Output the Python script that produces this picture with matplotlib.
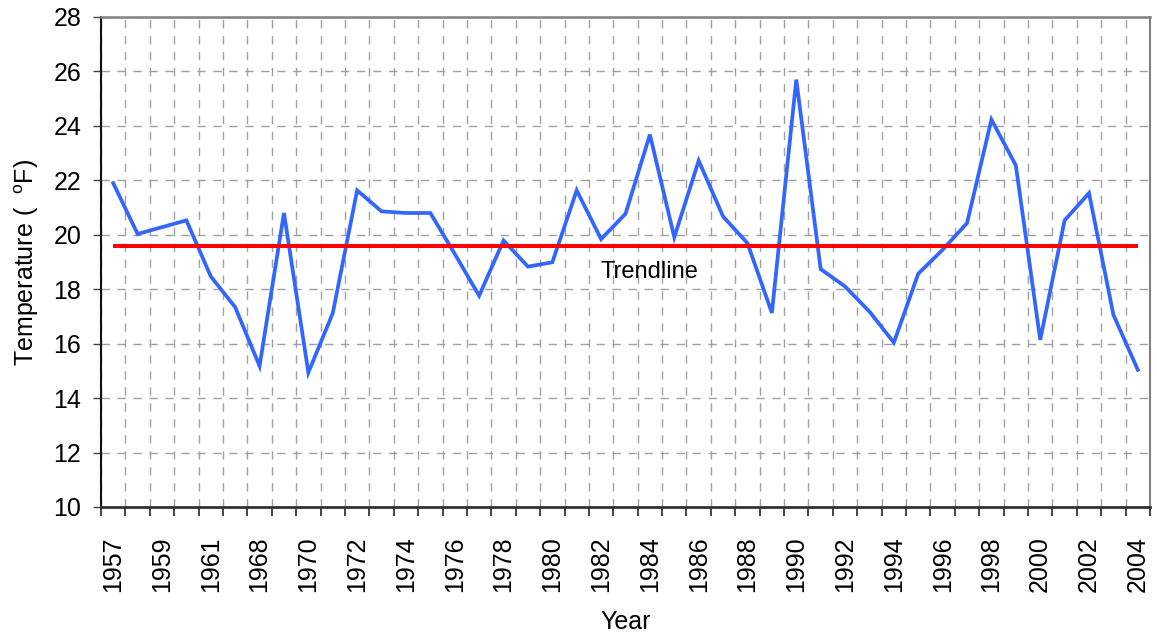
import matplotlib
matplotlib.use("Agg")
import matplotlib.pyplot as plt
import numpy as np

plt.rcParams['font.family'] = ['Liberation Sans', 'DejaVu Sans']
plt.rcParams['mathtext.fontset'] = 'custom'
plt.rcParams['mathtext.rm'] = 'Liberation Sans'

years = ['1957', '1958', '1959', '1960', '1961', '1962', '1968', '1969', '1970', '1971',
         '1972', '1973', '1974', '1975', '1976', '1977', '1978', '1979', '1980', '1981',
         '1982', '1983', '1984', '1985', '1986', '1987', '1988', '1989', '1990', '1991',
         '1992', '1993', '1994', '1995', '1996', '1997', '1998', '1999', '2000', '2001',
         '2002', '2003', '2004']
temperature = [21.90, 20.03, 20.28, 20.53, 18.47, 17.34, 15.18, 20.80, 14.94, 17.12,
               21.63, 20.86, 20.80, 20.80, 19.30, 17.76, 19.79, 18.83, 18.99, 21.63,
               19.84, 20.77, 23.68, 19.91, 22.72, 20.67, 19.69, 17.13, 25.70, 18.74,
               18.10, 17.18, 16.04, 18.57, 19.45, 20.43, 24.23, 22.55, 16.14, 20.53,
               21.53, 17.06, 15.04]
trend_value = 19.58
yticks = list(range(10, 29, 2))

W, H = 1157, 637
fig = plt.figure(figsize=(W / 100, H / 100), dpi=100)
ax = fig.add_axes([101 / W, 1 - 507 / H, (1150 - 101) / W, (507 - 17) / H])

x = np.arange(len(years))
ax.plot(x, temperature, color='#3366FF', lw=2.7, solid_joinstyle='miter', zorder=3)
ax.plot(x, [trend_value] * len(years), color='#FF0000', lw=2.9, zorder=4,
        solid_capstyle='butt')
ax.text(22, 18.65, 'Trendline', ha='center', va='center', fontsize=17, zorder=5)

ax.set_xlim(-0.5, len(years) - 0.5)
ax.set_ylim(10, 28)

ax.set_yticks(yticks)
ax.set_yticklabels([str(v) for v in yticks], fontsize=18)
ax.set_xticks(x[::2])
ax.set_xticklabels(years[::2], rotation=90, fontsize=18)
ax.set_xticks(np.arange(-0.5, len(years), 1.0), minor=True)

ax.tick_params(axis='x', which='major', length=0, pad=21)
ax.tick_params(axis='x', which='minor', length=6.5, width=1.2, color='#222222')
ax.tick_params(axis='y', which='major', length=5.8, width=1.0, color='#444444', pad=8.5)

grid_kw = dict(color='#A0A0A0', lw=1.0, linestyle=(0, (6, 5.5)))
ax.grid(True, axis='x', which='minor', **grid_kw)
ax.grid(True, axis='y', which='major', **grid_kw)
ax.grid(False, axis='x', which='major')
ax.set_axisbelow(True)

ax.spines['left'].set_color('#111111')
ax.spines['left'].set_linewidth(1.5)
ax.spines['bottom'].set_color('#333333')
ax.spines['bottom'].set_linewidth(2.0)
ax.spines['top'].set_color('#808080')
ax.spines['top'].set_linewidth(1.8)
ax.spines['right'].set_color('#808080')
ax.spines['right'].set_linewidth(1.5)

ax.set_xlabel('Year', fontsize=18, labelpad=13)
ax.set_ylabel('Temperature (  $^{\\mathrm{o}}$F)', fontsize=18, labelpad=9)

fig.savefig('out.png', dpi=100)
